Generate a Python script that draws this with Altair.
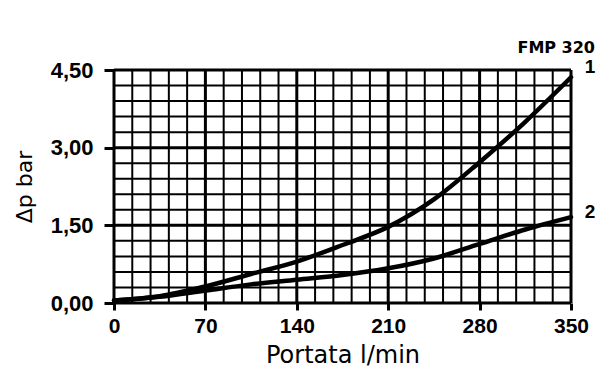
import altair as alt
import pandas as pd

# ---- data ----
flow = [0, 35, 70, 105, 140, 175, 210, 245, 280, 315, 350]
dp_curve1 = [0.05, 0.13, 0.32, 0.56, 0.80, 1.12, 1.47, 2.00, 2.72, 3.50, 4.36]
dp_curve2 = [0.05, 0.12, 0.24, 0.36, 0.45, 0.54, 0.67, 0.86, 1.14, 1.42, 1.66]
curve_names = ["1", "2"]
x_ticks = [0, 70, 140, 210, 280, 350]
y_ticks = [0, 1.5, 3.0, 4.5]
x_grid = list(range(0, 351, 14))
y_grid = [round(i * 0.3, 1) for i in range(16)]
chart_title = "FMP 320"
x_title = "Portata l/min"
y_title = "Δp bar"

# ---- tables ----
curves = pd.DataFrame({
    "Q": flow * 2,
    "dp": dp_curve1 + dp_curve2,
    "curve": [curve_names[0]] * len(flow) + [curve_names[1]] * len(flow),
})
x_minor = pd.DataFrame({"Q": [v for v in x_grid if v % 70 != 0]})
x_major = pd.DataFrame({"Q": [v for v in x_grid if v % 70 == 0]})
y_minor = pd.DataFrame({"dp": [v for v in y_grid if round(v / 1.5, 6) != round(v / 1.5)]})
y_major = pd.DataFrame({"dp": [v for v in y_grid if round(v / 1.5, 6) == round(v / 1.5)]})
end1 = pd.DataFrame({"Q": [flow[-1]], "dp": [dp_curve1[-1]], "t": [curve_names[0]]})
end2 = pd.DataFrame({"Q": [flow[-1]], "dp": [dp_curve2[-1]], "t": [curve_names[1]]})

xs = alt.Scale(domain=[0, 350], nice=False, zero=False)
ys = alt.Scale(domain=[0, 4.5], nice=False, zero=False)

x_axis = alt.Axis(
    values=x_ticks, grid=False, domain=False,
    tickSize=7, tickWidth=3, tickColor="black",
    labelFont="Liberation Sans", labelFontWeight="bold", labelFontSize=21,
    labelColor="black", labelPadding=5, labelFlush=False,
    titleFont="DejaVu Sans", titleFontWeight="normal", titleFontSize=24,
    titleColor="black", titlePadding=7,
)
y_axis = alt.Axis(
    values=y_ticks, grid=False, domain=False,
    tickSize=10, tickWidth=3, tickColor="black",
    labelExpr="replace(format(datum.value, '.2f'), '.', ',')",
    labelFont="Liberation Sans", labelFontWeight="bold", labelFontSize=22,
    labelColor="black", labelPadding=11, labelFlush=False,
    titleFont="DejaVu Sans", titleFontWeight="normal", titleFontSize=22,
    titleColor="black", titlePadding=14,
)


def X():
    return alt.X("Q:Q", scale=xs, axis=x_axis, title=x_title)


def Y():
    return alt.Y("dp:Q", scale=ys, axis=y_axis, title=y_title)


vminor = alt.Chart(x_minor).mark_rule(color="black", strokeWidth=2).encode(x=X())
vmajor = alt.Chart(x_major).mark_rule(color="black", strokeWidth=3).encode(x=X())
hminor = alt.Chart(y_minor).mark_rule(color="black", strokeWidth=2).encode(y=Y())
hmajor = alt.Chart(y_major).mark_rule(color="black", strokeWidth=3).encode(y=Y())

lines = alt.Chart(curves).mark_line(
    color="black", strokeWidth=4.5, interpolate="monotone", strokeCap="round"
).encode(x=X(), y=Y(), detail="curve:N")

lab1 = alt.Chart(end1).mark_text(
    dx=19, dy=-10, align="center", baseline="middle",
    font="Liberation Sans", fontWeight="bold", fontSize=19, color="black"
).encode(x=X(), y=Y(), text="t:N")
lab2 = alt.Chart(end2).mark_text(
    dx=19, dy=-5, align="center", baseline="middle",
    font="Liberation Sans", fontWeight="bold", fontSize=19, color="black"
).encode(x=X(), y=Y(), text="t:N")

chart = alt.layer(vminor, hminor, vmajor, hmajor, lines, lab1, lab2).properties(
    width=457,
    height=233,
    title=alt.TitleParams(
        chart_title, anchor="end", frame="group", font="DejaVu Sans",
        fontWeight="bold", fontSize=16, color="black", offset=2, dx=24,
    ),
    autosize=alt.AutoSizeParams(type="none"),
    padding={"left": 114, "top": 70, "right": 30, "bottom": 67},
).configure_view(stroke=None).configure(background="white")

chart.save("out.html", embed_options={"renderer": "svg", "actions": False})
